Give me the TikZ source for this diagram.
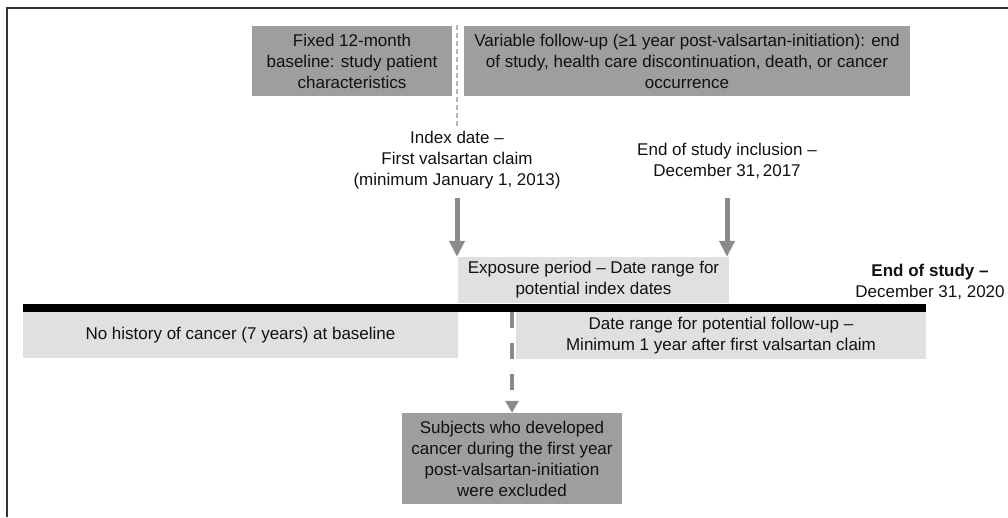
\documentclass[tikz,border=0pt]{standalone}
\usepackage{fontspec}
\setmainfont{Liberation Sans}
\usetikzlibrary{arrows.meta}
\definecolor{darkbox}{HTML}{9E9E9E}
\definecolor{lightbox}{HTML}{E0E0E0}
\definecolor{arrowgray}{HTML}{8A8A8A}
\definecolor{framegray}{HTML}{333333}
\definecolor{txt}{HTML}{111111}
\tikzset{
  base/.style={inner sep=0pt, align=center, text=txt, font=\fontsize{17}{21}\selectfont},
  darkrect/.style={base, fill=darkbox},
  lightrect/.style={base, fill=lightbox},
  label/.style={base},
  garrow/.style={draw=arrowgray, line width=5pt, -{Triangle[width=15pt,length=16pt]}},
  gdash/.style={draw=arrowgray, line width=4pt, dash pattern=on 16pt off 15pt, -{Triangle[width=13pt,length=12pt]}},
  thindash/.style={draw=gray!60, line width=1.4pt, dash pattern=on 5pt off 3pt},
}
\begin{document}
\begin{tikzpicture}[x=1pt,y=-1pt]
\useasboundingbox (0,0) rectangle (1008,517);
% frame
\draw[framegray, line width=2pt] (7,517) -- (7,8) -- (1008,8);
% top boxes
\node[darkrect, minimum width=200pt, minimum height=70pt] (fixed) at (352,61)
  {Fixed 12-month\\baseline: study patient\\characteristics};
\node[darkrect, minimum width=446pt, minimum height=70pt] (var) at (687,61)
  {Variable follow-up (≥1 year post-valsartan-initiation): end\\of study, health care discontinuation, death, or cancer\\occurrence};
% dashed separator
\coordinate (sepT) at (457,25);
\coordinate (sepB) at (457,128);
\draw[thindash] (sepT) -- (sepB);
% labels
\node[label] (idx) at (457,160) {Index date –\\First valsartan claim\\(minimum January 1, 2013)};
\node[label] (incl) at (727,161) {End of study inclusion –\\December\ 31,\,2017};
% exposure box
\node[lightrect, minimum width=271pt, minimum height=46pt] (expo) at (593.5,280)
  {Exposure period – Date range for\\potential index dates};
% timeline bar
\fill[black] (23,304) rectangle (926,312);
% below boxes
\node[lightrect, minimum width=435pt, minimum height=46pt] (nohist) at (240.5,335)
  {No history of cancer (7 years) at baseline};
\node[lightrect, minimum width=410pt, minimum height=47pt] (follow) at (721,335.5)
  {Date range for potential follow-up –\\Minimum 1 year after first valsartan claim};
% subjects box
\node[darkrect, minimum width=220pt, minimum height=91pt] (subj) at (512,458.5)
  {Subjects who developed\\cancer during the first year\\post-valsartan-initiation\\were excluded};
% end of study
\node[label] (eos) at (930,282) {\textbf{End of study –}\\December 31, 2020};
% arrows
\coordinate (a1) at (457,198);
\coordinate (a2) at (727,198);
\draw[garrow] (a1) -- (a1 |- expo.north);
\draw[garrow] (a2) -- (a2 |- expo.north);
\coordinate (d1) at (512,312);
\draw[gdash] (d1) -- (subj.north);
\end{tikzpicture}
\end{document}
